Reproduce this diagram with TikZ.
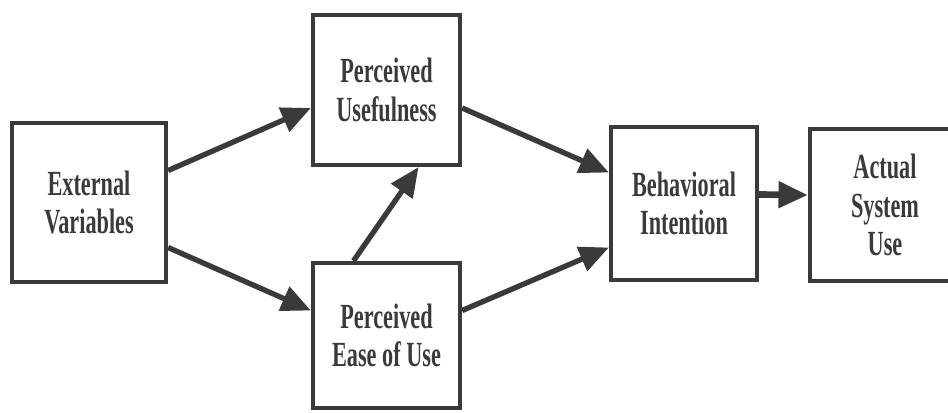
\documentclass[tikz,border=0pt]{standalone}
\usepackage{fontspec}
\setmainfont[FakeStretch=0.63]{Liberation Serif}
\usetikzlibrary{arrows.meta}
\definecolor{ink}{RGB}{58,58,58}
\begin{document}
\begin{tikzpicture}[x=0.75pt,y=-0.75pt,
        box/.style={shape=rectangle,draw=ink,line width=3.2pt,align=center,
            text=ink,font=\bfseries\fontsize{26.5}{29}\selectfont},
        link/.style={draw=ink,line width=4pt,-{Triangle[length=22pt,width=19pt]}}]
                \useasboundingbox (0,0) rectangle (948,412);

                \node[box,minimum width=115.5pt,minimum height=119.25pt] (ext) at (89,202.5) {External\\Variables};
                \node[box,minimum width=110.25pt,minimum height=112.5pt] (pu) at (386.5,90) {Perceived\\Usefulness};
                \node[box,minimum width=110.25pt,minimum height=108.75pt] (peou) at (386.5,335.5) {Perceived\\Ease of Use};
                \node[box,minimum width=109.5pt,minimum height=114.75pt] (bi) at (684,203.5) {Behavioral\\Intention};
                \node[box,minimum width=112.5pt,minimum height=114pt] (asu) at (885,205) {Actual\\System\\Use};

                \path ([shift={(0,-32)}]ext.east) edge[link] ([shift={(0,18)}]pu.west);
                \path ([shift={(0,45)}]ext.east) edge[link] ([shift={(0,-25)}]peou.west);
                \path ([shift={(-33,0)}]peou.north) edge[link] ([shift={(32,0)}]pu.south);
                \path ([shift={(0,18)}]pu.east) edge[link] ([shift={(0,-31)}]bi.west);
                \path ([shift={(0,-25)}]peou.east) edge[link] ([shift={(0,44)}]bi.west);
                \path ([shift={(0,-9)}]bi.east) edge[link,line width=5pt] ([shift={(0,-10)}]asu.west);
            \end{tikzpicture}
\end{document}
